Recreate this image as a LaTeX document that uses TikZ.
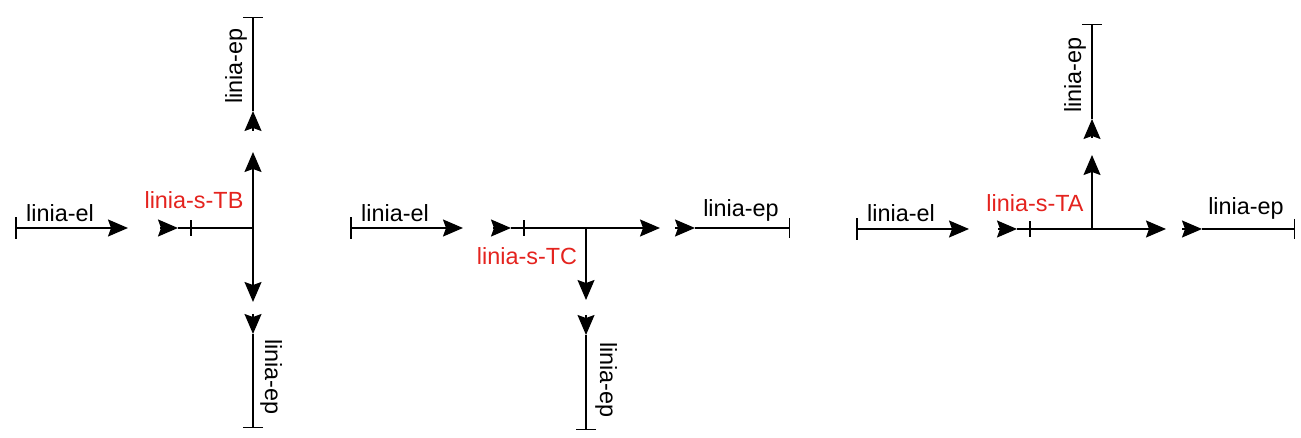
\documentclass[tikz,border=0pt]{standalone}
\usepackage{fontspec}
\setmainfont{Liberation Sans}
\usetikzlibrary{arrows.meta, calc}
\definecolor{sred}{RGB}{228,35,30}
\tikzset{
  arr/.style={-{Stealth[length=10pt,width=8.5pt,inset=1.5pt]}},
  elarr/.style={{Bar[width=11pt]}-{Stealth[length=10pt,width=8.5pt,inset=1.5pt]}},
  barend/.style={-{Bar[width=10pt]}},
  sbar/.style={{Bar[width=8pt]}-},
  lbl/.style={font=\fontsize{11.7}{14}\selectfont, inner sep=0pt, anchor=base},
  slbl/.style={lbl, text=sred}
}
\begin{document}
\begin{tikzpicture}[line cap=butt,line join=round,x=0.5pt,y=-0.5pt,line width=0.75pt]
\useasboundingbox (0,0) rectangle (1301,438);
% linia-s-TB
\coordinate (A-el0) at (15,228); \coordinate (A-el1) at (128,228);
\coordinate (A-s0) at (160,228); \coordinate (A-s1) at (178,228);
\coordinate (A-st) at (190,228); \coordinate (A-j) at (253,228);
\coordinate (A-up) at (253,152); \coordinate (A-dn) at (253,302);
\coordinate (A-u0) at (253,131); \coordinate (A-u1) at (253,111); \coordinate (A-u2) at (253,17);
\coordinate (A-d0) at (253,314); \coordinate (A-d1) at (253,334); \coordinate (A-d2) at (253,428);
\draw[elarr] (A-el0) -- (A-el1);
\draw[arr] (A-s0) -- (A-s1);
\draw (A-s1) -- (A-st);
\draw[sbar] (A-st) -- (A-j);
\draw[arr] (A-j) -- (A-up);
\draw[arr] (A-j) -- (A-dn);
\draw[arr] (A-u0) -- (A-u1);
\draw[barend] (A-u1) -- (A-u2);
\draw[arr] (A-d0) -- (A-d1);
\draw[barend] (A-d1) -- (A-d2);
\node[lbl] (A-el) at (60,222) {linia-el};
\node[slbl] (A-s) at (194,209) {linia-s-TB};
\node[lbl, rotate=90] (A-epu) at (242,66) {linia-ep};
\node[lbl, rotate=-90] (A-epd) at (265,377) {linia-ep};
% linia-s-TC
\coordinate (B-el0) at (350,228); \coordinate (B-el1) at (463,228);
\coordinate (B-s0) at (493,228); \coordinate (B-s1) at (511,228);
\coordinate (B-st) at (523,228); \coordinate (B-j) at (586,228);
\coordinate (B-rt) at (660,228); \coordinate (B-dn) at (586,300);
\coordinate (B-r0) at (675,228); \coordinate (B-r1) at (695,228); \coordinate (B-r2) at (790,228);
\coordinate (B-d0) at (586,315); \coordinate (B-d1) at (586,335); \coordinate (B-d2) at (586,430);
\draw[elarr] (B-el0) -- (B-el1);
\draw[arr] (B-s0) -- (B-s1);
\draw (B-s1) -- (B-st);
\draw[sbar] (B-st) -- (B-j);
\draw[arr] (B-j) -- (B-rt);
\draw[arr] (B-j) -- (B-dn);
\draw[arr] (B-r0) -- (B-r1);
\draw[barend] (B-r1) -- (B-r2);
\draw[arr] (B-d0) -- (B-d1);
\draw[barend] (B-d1) -- (B-d2);
\node[lbl] (B-el) at (395,222) {linia-el};
\node[slbl] (B-s) at (527,265) {linia-s-TC};
\node[lbl] (B-epr) at (741,217) {linia-ep};
\node[lbl, rotate=-90] (B-epd) at (600,380) {linia-ep};
% linia-s-TA
\coordinate (C-el0) at (856,229); \coordinate (C-el1) at (969,229);
\coordinate (C-s0) at (998,229); \coordinate (C-s1) at (1017,229);
\coordinate (C-st) at (1029,229); \coordinate (C-j) at (1092,229);
\coordinate (C-rt) at (1166,229); \coordinate (C-up) at (1092,155);
\coordinate (C-r0) at (1182,229); \coordinate (C-r1) at (1202,229); \coordinate (C-r2) at (1295,229);
\coordinate (C-u0) at (1092,138); \coordinate (C-u1) at (1092,119); \coordinate (C-u2) at (1092,24);
\draw[elarr] (C-el0) -- (C-el1);
\draw[arr] (C-s0) -- (C-s1);
\draw (C-s1) -- (C-st);
\draw[sbar] (C-st) -- (C-j);
\draw[arr] (C-j) -- (C-rt);
\draw[arr] (C-j) -- (C-up);
\draw[arr] (C-r0) -- (C-r1);
\draw[barend] (C-r1) -- (C-r2);
\draw[arr] (C-u0) -- (C-u1);
\draw[barend] (C-u1) -- (C-u2);
\node[lbl] (C-el) at (901,222) {linia-el};
\node[slbl] (C-s) at (1035,212) {linia-s-TA};
\node[lbl] (C-epr) at (1246,215) {linia-ep};
\node[lbl, rotate=90] (C-epu) at (1081,75) {linia-ep};
\end{tikzpicture}
\end{document}
